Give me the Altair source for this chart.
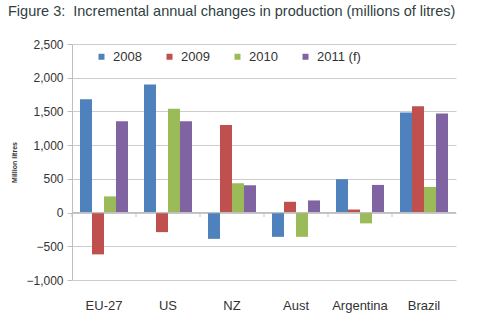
import altair as alt
import pandas as pd

countries = ["EU-27", "US", "NZ", "Aust", "Argentina", "Brazil"]
years = ["2008", "2009", "2010", "2011 (f)"]
v2008 = [1680, 1900, -390, -360, 495, 1485]
v2009 = [-620, -290, 1300, 160, 45, 1575]
v2010 = [240, 1540, 435, -360, -160, 380]
v2011 = [1355, 1355, 405, 180, 410, 1470]
colors = ["#4F81BD", "#C0504D", "#9BBB59", "#8064A2"]
y_ticks = [-1000, -500, 0, 500, 1000, 1500, 2000, 2500]

rows = []
for yr, vals in zip(years, [v2008, v2009, v2010, v2011]):
    for c, v in zip(countries, vals):
        rows.append({"country": c, "year": yr, "value": v})
df = pd.DataFrame(rows)
cdf = pd.DataFrame({"country": countries, "value": [0] * 6, "value2": [-65] * 6})

FONT = "Liberation Sans"

yaxis = alt.Axis(title="Million litres", values=y_ticks, format=",d",
                 labelOverlap=False, tickCount=8,
                 grid=True, gridColor="#cccccc", domain=True,
                 domainColor="#bfbfbf", ticks=True, tickSize=5,
                 tickColor="#bfbfbf", labelPadding=4, labelFontSize=12,
                 labelColor="#333333", labelFont=FONT,
                 titleFontSize=7, titleFontWeight="bold",
                 titleColor="#333333", titleFont=FONT,
                 titleX=-58, titleY=118, titleAngle=-90,
                 titleAlign="center", titleBaseline="middle")
yscale = alt.Scale(domain=[-1000, 2500], nice=False)
xaxis = alt.Axis(title=None, labelAngle=0, domain=False, ticks=False,
                 grid=False, labelPadding=19, labelFontSize=13,
                 labelColor="#333333", labelFont=FONT)
xscale = alt.Scale(paddingInner=0, paddingOuter=0)

bars = alt.Chart(df).mark_bar(size=12).encode(
    x=alt.X("country:N", sort=countries, scale=xscale, axis=xaxis),
    xOffset=alt.XOffset("year:N", sort=years,
                        scale=alt.Scale(paddingInner=0, paddingOuter=0.667)),
    y=alt.Y("value:Q", scale=yscale, axis=yaxis),
    color=alt.Color("year:N", sort=years,
                    scale=alt.Scale(domain=years, range=colors),
                    legend=alt.Legend(title=None, orient="none", legendX=23,
                                      legendY=6, direction="horizontal",
                                      symbolType="square", symbolSize=36,
                                      symbolStrokeWidth=0, labelOffset=5,
                                      columnPadding=21, labelFontSize=13,
                                      labelColor="#333333", labelFont=FONT)),
)

zero = alt.Chart(cdf).mark_rule(color="#bfbfbf", strokeWidth=1).encode(
    x=alt.value(0), x2=alt.value(384),
    y=alt.Y("value:Q", scale=yscale, axis=yaxis)
)

cat_ticks = alt.Chart(cdf).mark_rule(color="#bfbfbf", strokeWidth=1).encode(
    x=alt.X("country:N", sort=countries, bandPosition=0, scale=xscale, axis=xaxis),
    y=alt.Y("value:Q", scale=yscale, axis=yaxis),
    y2="value2:Q",
)

chart = alt.layer(bars, zero, cat_ticks).properties(
    width=384, height=236,
    title=alt.Title("Figure 3:\u00a0 Incremental annual changes in production (millions of litres)",
                    anchor="start", frame="group", dx=-64, offset=19,
                    fontSize=14.5, fontWeight="normal", color="#2f3f42", font=FONT),
    padding={"left": 72, "top": 44, "right": 44, "bottom": 41},
    autosize=alt.AutoSizeParams(type="none"),
).configure_view(stroke=None)

chart.save("out.html", embed_options={"renderer": "svg", "actions": False})
